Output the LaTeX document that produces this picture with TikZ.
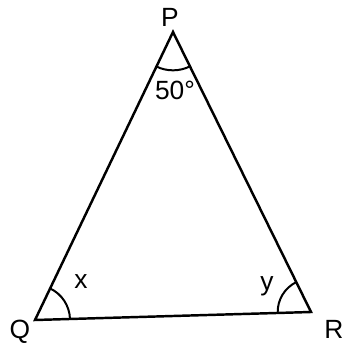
\documentclass[tikz,border=0pt]{standalone}
\usepackage{fontspec}
\setmainfont{Liberation Sans}
\usetikzlibrary{angles}
\begin{document}
\begin{tikzpicture}[x=0.03cm,y=-0.03cm,
  side/.style={line width=2.1pt,line join=miter},
  anglearc/.style={draw,line width=1.7pt},
  lbl/.style={font=\fontsize{22.5}{26}\selectfont,inner sep=0pt}]
\useasboundingbox (0,0) rectangle (345,343);
\coordinate (P) at (173,32);
\coordinate (Q) at (35,320);
\coordinate (R) at (311,312);
\draw[side] (P) -- (Q) -- (R) -- cycle;
\pic[anglearc,angle radius=1.15cm] {angle=Q--P--R};
\pic[anglearc,angle radius=1.05cm] {angle=R--Q--P};
\pic[anglearc,angle radius=1.0cm] {angle=P--R--Q};
\node[lbl] (lP) at (170,17) {P};
\node[lbl] (lQ) at (20,332) {Q};
\node[lbl] (lR) at (334,329) {R};
\node[lbl] (a50) at (175,90) {50\textdegree};
\node[lbl] (lx) at (81,282) {x};
\node[lbl] (ly) at (267,286) {y};
\end{tikzpicture}
\end{document}
